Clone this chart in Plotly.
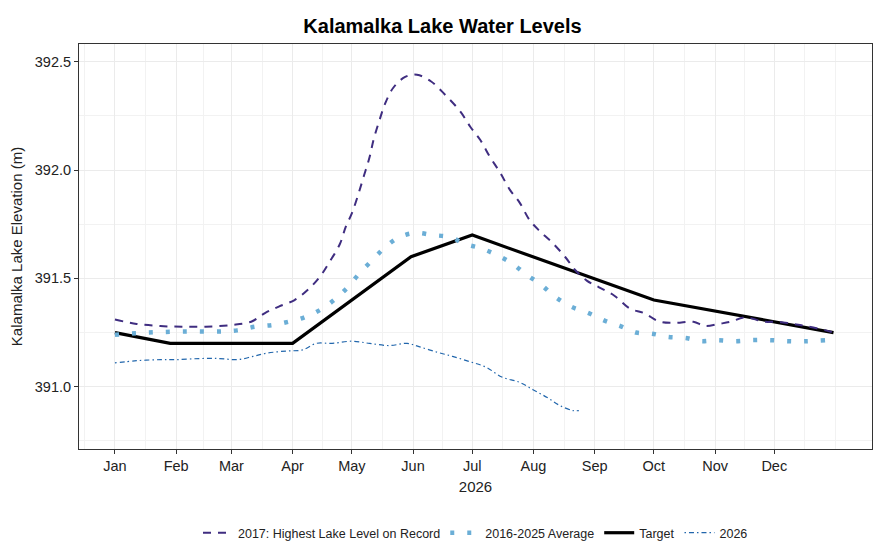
import pandas as pd
import plotly.graph_objects as go

# 2017: highest lake level on record
rec_dates = ["2026-01-01", "2026-01-12", "2026-01-24", "2026-02-04", "2026-02-16",
             "2026-03-01", "2026-03-11", "2026-03-18", "2026-03-25", "2026-04-02",
             "2026-04-09", "2026-04-15", "2026-04-20", "2026-04-25", "2026-04-28",
             "2026-05-01", "2026-05-04", "2026-05-07", "2026-05-10", "2026-05-12",
             "2026-05-15", "2026-05-18", "2026-05-22", "2026-05-28", "2026-06-03",
             "2026-06-10", "2026-06-17", "2026-06-25", "2026-06-30", "2026-07-05",
             "2026-07-10", "2026-07-15", "2026-07-20", "2026-07-25", "2026-07-30",
             "2026-08-04", "2026-08-10", "2026-08-17", "2026-08-22", "2026-08-28",
             "2026-09-03", "2026-09-11", "2026-09-19", "2026-09-26", "2026-10-04",
             "2026-10-12", "2026-10-21", "2026-10-27", "2026-11-03", "2026-11-09",
             "2026-11-16", "2026-11-26", "2026-12-03", "2026-12-10", "2026-12-17",
             "2026-12-27", "2026-12-31"]
rec_vals = [391.31, 391.29, 391.28, 391.277, 391.277,
            391.285, 391.30, 391.34, 391.37, 391.40,
            391.45, 391.51, 391.58, 391.66, 391.74,
            391.80, 391.88, 391.97, 392.06, 392.14,
            392.23, 392.31, 392.38, 392.43, 392.44,
            392.41, 392.35, 392.27, 392.20, 392.14,
            392.06, 391.99, 391.91, 391.85, 391.77,
            391.72, 391.67, 391.60, 391.54, 391.49,
            391.46, 391.42, 391.36, 391.34, 391.30,
            391.295, 391.30, 391.28, 391.29, 391.30,
            391.32, 391.30, 391.30, 391.29, 391.28,
            391.26, 391.25]

# 2016-2025 average
avg_dates = ["2026-01-01", "2026-01-18", "2026-02-05", "2026-02-23", "2026-03-04",
             "2026-03-13", "2026-03-22", "2026-03-30", "2026-04-07", "2026-04-15",
             "2026-04-22", "2026-04-29", "2026-05-05", "2026-05-12", "2026-05-18",
             "2026-05-25", "2026-06-02", "2026-06-11", "2026-06-20", "2026-06-27",
             "2026-07-05", "2026-07-13", "2026-07-21", "2026-07-28", "2026-08-05",
             "2026-08-12", "2026-08-20", "2026-08-29", "2026-09-06", "2026-09-14",
             "2026-09-22", "2026-09-30", "2026-10-08", "2026-10-17", "2026-10-25",
             "2026-11-02", "2026-11-11", "2026-11-20", "2026-11-29", "2026-12-08",
             "2026-12-17", "2026-12-27"]
avg_vals = [391.24, 391.25, 391.255, 391.255, 391.26,
            391.277, 391.285, 391.30, 391.32, 391.355,
            391.40, 391.46, 391.525, 391.59, 391.645,
            391.69, 391.71, 391.70, 391.69, 391.66,
            391.64, 391.61, 391.57, 391.52, 391.47,
            391.415, 391.37, 391.34, 391.305, 391.28,
            391.25, 391.245, 391.23, 391.225, 391.21,
            391.215, 391.21, 391.215, 391.215, 391.21,
            391.21, 391.215]

# Target
tgt_dates = ["2026-01-01", "2026-01-29", "2026-04-01", "2026-05-31", "2026-07-01",
             "2026-10-01", "2026-12-31"]
tgt_vals = [391.25, 391.20, 391.20, 391.60, 391.70, 391.40, 391.25]

# 2026
cur_dates = ["2026-01-01", "2026-01-12", "2026-01-24", "2026-02-01", "2026-02-13",
             "2026-02-23", "2026-03-04", "2026-03-12", "2026-03-19", "2026-03-29",
             "2026-04-06", "2026-04-13", "2026-04-21", "2026-05-01", "2026-05-10",
             "2026-05-20", "2026-05-29", "2026-06-04", "2026-06-13", "2026-06-21",
             "2026-06-30", "2026-07-08", "2026-07-16", "2026-07-25", "2026-08-01",
             "2026-08-08", "2026-08-14", "2026-08-21", "2026-08-24"]
cur_vals = [391.11, 391.12, 391.125, 391.125, 391.13,
            391.13, 391.125, 391.14, 391.155, 391.165,
            391.17, 391.20, 391.20, 391.21, 391.20,
            391.19, 391.20, 391.185, 391.16, 391.14,
            391.115, 391.09, 391.045, 391.02, 390.985,
            390.95, 390.915, 390.89, 390.89]

month_ticks = pd.date_range("2026-01-01", "2026-12-01", freq="MS")
month_labels = ["Jan", "Feb", "Mar", "Apr", "May", "Jun",
                "Jul", "Aug", "Sep", "Oct", "Nov", "Dec"]

# minor grid at the midpoints between month breaks (ggplot style)
edges = pd.date_range("2025-12-01", "2027-01-01", freq="MS")
minor_x = [edges[i] + (edges[i + 1] - edges[i]) / 2 for i in range(len(edges) - 1)]
minor_x.append(pd.Timestamp("2027-01-01"))

fig = go.Figure()

fig.add_trace(go.Scatter(
    x=tgt_dates, y=tgt_vals, name="Target", mode="lines",
    line=dict(color="black", width=3.2), legendrank=3))
fig.add_trace(go.Scatter(
    x=rec_dates, y=rec_vals, name="2017: Highest Lake Level on Record", mode="lines",
    line=dict(color="#3f2d80", width=2, dash="8px,7px", shape="spline"), legendrank=1))
fig.add_trace(go.Scatter(
    x=avg_dates, y=avg_vals, name="2016-2025 Average", mode="lines",
    line=dict(color="#6baed6", width=4.5, dash="4px,13px", shape="spline"), legendrank=2))
fig.add_trace(go.Scatter(
    x=cur_dates, y=cur_vals, name="2026", mode="lines",
    line=dict(color="#2166ac", width=1.2, dash="1.5px,3px,5px,3px", shape="spline"),
    legendrank=4))

fig.update_layout(
    width=885, height=553,
    paper_bgcolor="white", plot_bgcolor="white",
    font=dict(family="Liberation Sans, Arial, sans-serif", color="#222222"),
    margin=dict(l=79, r=13, t=44, b=104, autoexpand=False),
    title=dict(text="<b>Kalamalka Lake Water Levels</b>", x=0.5, xanchor="center",
               yref="container", y=0.953, yanchor="middle",
               font=dict(size=20, color="black")),
    showlegend=True,
    legend=dict(orientation="h", x=0.5, xanchor="center",
                yref="container", y=0.036, yanchor="middle",
                font=dict(size=12.5, color="#222222"), itemwidth=30,
                traceorder="normal"),
)

fig.update_xaxes(
    type="date", automargin=False,
    range=["2025-12-13 19:00", "2027-01-19 12:00"],
    tickmode="array", tickvals=month_ticks, ticktext=month_labels,
    ticks="outside", ticklen=4, tickcolor="#333333",
    tickfont=dict(size=14.5, color="#222222"),
    showgrid=True, gridcolor="#ebebeb", gridwidth=1,
    minor=dict(tickvals=minor_x, showgrid=True, gridcolor="#f2f2f2", gridwidth=1, ticks=""),
    showline=True, linecolor="#333333", linewidth=1, mirror=True,
    zeroline=False,
    title=dict(text="2026", font=dict(size=15, color="#222222"), standoff=8),
)

fig.update_yaxes(
    automargin=False,
    range=[390.7125, 392.582],
    tickmode="array", tickvals=[391.0, 391.5, 392.0, 392.5],
    ticktext=["391.0", "391.5", "392.0", "392.5"],
    ticks="outside", ticklen=4, tickcolor="#333333",
    tickfont=dict(size=14.5, color="#222222"),
    showgrid=True, gridcolor="#ebebeb", gridwidth=1,
    minor=dict(tickvals=[390.75, 391.25, 391.75, 392.25], showgrid=True,
               gridcolor="#f2f2f2", gridwidth=1, ticks=""),
    showline=True, linecolor="#333333", linewidth=1, mirror=True,
    zeroline=False,
    title=dict(text="Kalamalka Lake Elevation (m)", font=dict(size=15, color="#222222"),
               standoff=8),
)

# drop the browser's default 8px page margin so the figure sits at the window corner
fig.write_html("out.html", config={"displayModeBar": False},
               post_script="document.body.style.margin='0';")
